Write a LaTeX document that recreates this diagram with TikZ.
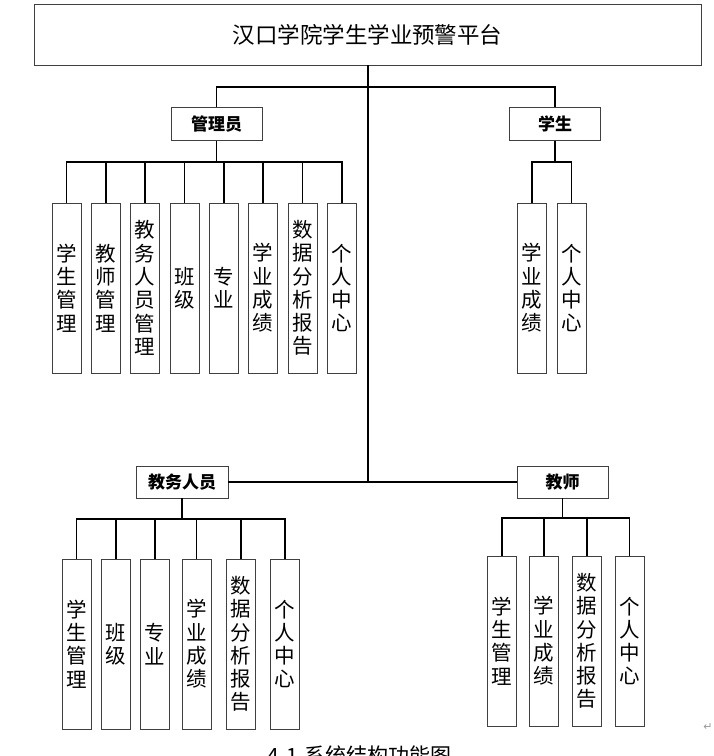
\documentclass[tikz,border=0pt]{standalone}
\usepackage{fontspec}
\newfontfamily\cjk{Noto Sans CJK SC}
\newfontfamily\djv{DejaVu Sans}
\tikzset{
  topbox/.style={draw=black!75, line width=0.9pt, inner sep=0pt, minimum width=667pt, minimum height=61pt, font=\cjk\fontsize{22.5}{26}\selectfont},
  rolebox/.style={draw=black!75, line width=0.9pt, inner sep=0pt, minimum width=91pt, minimum height=33pt, font=\cjk\bfseries\fontsize{17}{20}\selectfont},
  colbox/.style={draw=black!75, line width=0.9pt, inner sep=0pt, minimum width=29pt, minimum height=170pt, align=center, font=\cjk\fontsize{20.5}{23.3}\selectfont},
  conn/.style={line width=1.2pt, black}
}
\begin{document}
\begin{tikzpicture}[x=1pt,y=-1pt]
\useasboundingbox (0,0) rectangle (714,756);
\clip (0,0) rectangle (714,756);
% top
\node[topbox] (top) at (367.5,34.5) {汉口学院学生学业预警平台};
% roles
\node[rolebox] (gly) at (216.5,124) {管理员};
\node[rolebox] (xs) at (555,124) {学生};
\node[rolebox,minimum width=92pt,minimum height=32pt] (jwry) at (182,482) {教务人员};
\node[rolebox,minimum height=32pt] (js) at (562.5,482) {教师};
% junctions
\coordinate (jt) at (368,87);
\coordinate (jb) at (368,482);
\coordinate (ga) at (216.5,162);
\coordinate (sa) at (555,162);
\coordinate (wa) at (182,519);
\coordinate (ta) at (562.5,518);
% admin columns
\node[colbox] (a1) at (66.5,288) {学\\生\\管\\理};
\node[colbox] (a2) at (106,288) {教\\师\\管\\理};
\node[colbox] (a3) at (145,288) {教\\务\\人\\员\\管\\理};
\node[colbox] (a4) at (184.5,288) {班\\级};
\node[colbox] (a5) at (224,288) {专\\业};
\node[colbox] (a6) at (263,288) {学\\业\\成\\绩};
\node[colbox] (a7) at (302.5,288) {数\\据\\分\\析\\报\\告};
\node[colbox] (a8) at (342,288) {个\\人\\中\\心};
% student columns
\node[colbox] (s1) at (532,288) {学\\业\\成\\绩};
\node[colbox] (s2) at (571.5,288) {个\\人\\中\\心};
% academic staff columns
\node[colbox] (j1) at (76.5,644) {学\\生\\管\\理};
\node[colbox] (j2) at (116,644) {班\\级};
\node[colbox] (j3) at (155,644) {专\\业};
\node[colbox] (j4) at (196.5,644) {学\\业\\成\\绩};
\node[colbox] (j5) at (241,644) {数\\据\\分\\析\\报\\告};
\node[colbox] (j6) at (285,644) {个\\人\\中\\心};
% teacher columns
\node[colbox] (t1) at (502,641) {学\\生\\管\\理};
\node[colbox] (t2) at (544,641) {学\\业\\成\\绩};
\node[colbox] (t3) at (587,641) {数\\据\\分\\析\\报\\告};
\node[colbox] (t4) at (629.5,641) {个\\人\\中\\心};
% connectors
\draw[conn] (top.south -| jt) -- (jb);
\draw[conn] (gly.north) |- (jt) -| (xs.north);
\draw[conn] (jwry.east) -- (jb) -- (js.west);
\draw[conn] (gly.south) -- (ga);
\draw[conn] (a1.north) |- (ga) -| (a8.north);
\foreach \n in {a2,a3,a4,a5,a6,a7} \draw[conn] (\n.north) -- (\n.north |- ga);
\draw[conn] (xs.south) -- (sa);
\draw[conn] (s1.north) |- (sa) -| (s2.north);
\draw[conn] (jwry.south) -- (wa);
\draw[conn] (j1.north) |- (wa) -| (j6.north);
\foreach \n in {j2,j3,j4,j5} \draw[conn] (\n.north) -- (\n.north |- wa);
\draw[conn] (js.south) -- (ta);
\draw[conn] (t1.north) |- (ta) -| (t4.north);
\foreach \n in {t2,t3} \draw[conn] (\n.north) -- (\n.north |- ta);
% caption (cut off at the bottom edge, as in the reference)
\node[anchor=north west, inner sep=0pt, font=\cjk\fontsize{21}{24}\selectfont] (cap) at (267,746) {4-1\hspace{7pt}系统结构功能图};
\node[anchor=center, inner sep=0pt, text=black!40, font=\djv\fontsize{11}{13}\selectfont] (ret) at (708,727) {↵};
\end{tikzpicture}
\end{document}
